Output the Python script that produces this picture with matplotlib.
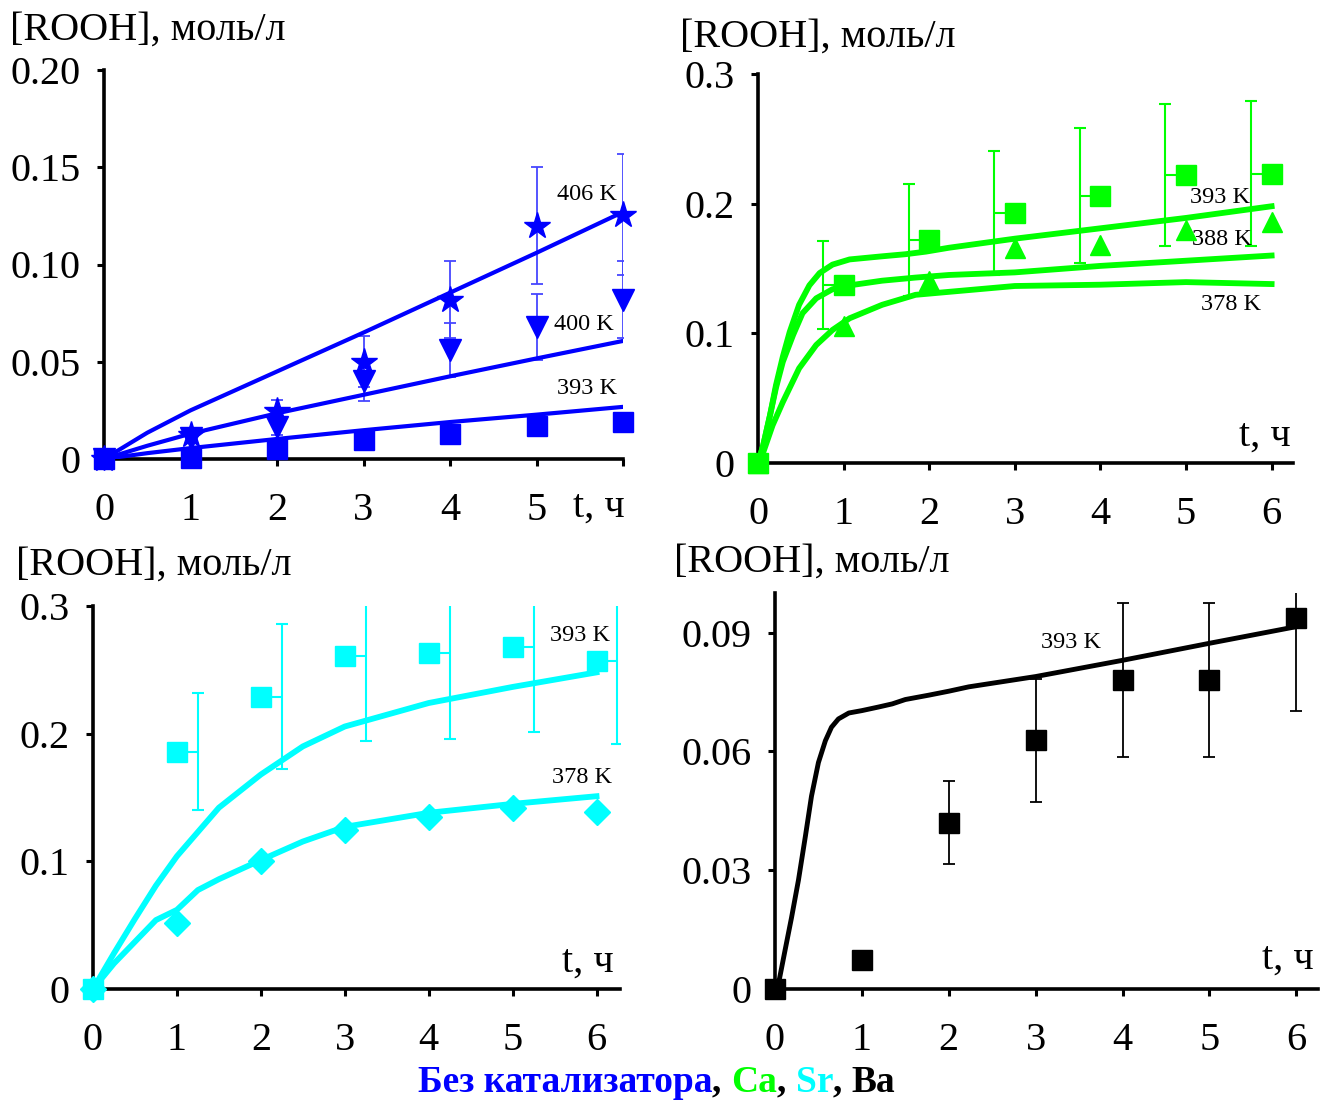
import numpy as np
import matplotlib
matplotlib.use("Agg")
import matplotlib.pyplot as plt

plt.rcParams['font.family'] = ['Liberation Serif', 'DejaVu Serif']

BLUE = '#0000ff'
BLUE_ERR = '#4646ff'
GREEN = '#00ff00'
CYAN = '#00ffff'
BLACK = '#000000'

t = [0, 1, 2, 3, 4, 5, 6]

# --- без катализатора
nc_406 = [0, 0.0125, 0.0247, 0.050, 0.082, 0.120, 0.1256]
nc_406_err = [0, 0, 0.0055, 0.013, 0.020, 0.030, 0.031]
nc_400 = [0, 0.011, 0.0165, 0.040, 0.056, 0.068, 0.082]
nc_400_err = [0, 0, 0.004, 0.010, 0.014, 0.017, 0.020]
nc_393 = [0, 0.0003, 0.005, 0.010, 0.013, 0.017, 0.019]
nc_fit_t = [0, 0.5, 1, 2, 3, 4, 5, 6]
nc_fit_406 = [0, 0.0135, 0.025, 0.045, 0.065, 0.0855, 0.106, 0.127]
nc_fit_400 = [0, 0.0068, 0.013, 0.0235, 0.033, 0.0425, 0.0517, 0.0607]
nc_fit_393 = [0, 0.003, 0.0056, 0.0103, 0.0148, 0.019, 0.0228, 0.0268]

# --- Ca
ca_393 = [0, 0.137, 0.172, 0.193, 0.206, 0.222, 0.223]
ca_393_err = [0, 0.034, 0.043, 0.048, 0.052, 0.055, 0.056]
ca_388 = [0, 0.106, 0.140, 0.166, 0.168, 0.180, 0.186]
ca_fit_t393 = [0, 0.06, 0.14, 0.21, 0.29, 0.37, 0.48, 0.6, 0.72, 0.87, 1.07,
               1.45, 1.72, 1.96, 2.23, 3, 4, 5, 6]
ca_fit_393 = [0, 0.0134, 0.0367, 0.060, 0.082, 0.101, 0.122, 0.137, 0.1465, 0.153,
              0.157, 0.1594, 0.161, 0.163, 0.166, 0.173, 0.181, 0.189, 0.198]
ca_fit_t388 = [0, 0.06, 0.14, 0.21, 0.29, 0.41, 0.52, 0.68, 0.87, 1.07, 1.45, 1.84,
               2.23, 3, 4, 5, 6]
ca_fit_388 = [0, 0.0134, 0.0367, 0.058, 0.078, 0.0987, 0.1155, 0.127, 0.134, 0.137,
              0.1406, 0.143, 0.145, 0.147, 0.152, 0.156, 0.160]
ca_fit_t378 = [0, 0.06, 0.17, 0.29, 0.48, 0.68, 0.87, 1.07, 1.45, 1.84, 2.23,
               3, 4, 5, 6]
ca_fit_378 = [0, 0.008, 0.029, 0.047, 0.073, 0.091, 0.1026, 0.1116, 0.122, 0.1297,
              0.132, 0.1365, 0.1375, 0.1395, 0.138]

# --- Sr
sr_393 = [0, 0.186, 0.229, 0.261, 0.263, 0.268, 0.257]
sr_393_err = [0, 0.046, 0.057, 0.067, 0.067, 0.067, 0.065]
sr_378 = [0, 0.052, 0.100, 0.1245, 0.135, 0.142, 0.1386]
sr_fit_t393 = [0, 0.25, 0.5, 0.75, 1, 1.5, 2, 2.5, 3, 4, 5, 6]
sr_fit_393 = [0, 0.028, 0.055, 0.081, 0.104, 0.142, 0.168, 0.19, 0.2056, 0.224, 0.2366, 0.248]
sr_fit_t378 = [0, 0.25, 0.5, 0.75, 1, 1.25, 1.5, 2, 2.5, 3, 4, 5, 5.5, 6]
sr_fit_378 = [0, 0.02, 0.037, 0.054, 0.062, 0.0775, 0.086, 0.101, 0.1155, 0.127,
              0.138, 0.145, 0.148, 0.151]

# --- Ba
ba_393 = [0, 0.0073, 0.042, 0.0628, 0.078, 0.078, 0.0936]
ba_393_err = [0, 0, 0.0105, 0.0155, 0.0195, 0.0195, 0.0233]
ba_fit_t = [0, 0.04, 0.115, 0.19, 0.27, 0.35, 0.42, 0.5, 0.58, 0.65, 0.73, 0.85,
            1.0, 1.19, 1.35, 1.5, 1.77, 2.0, 2.23, 3, 4, 5, 6]
ba_fit_393 = [0, 0.0013, 0.0097, 0.018, 0.0275, 0.0386, 0.0487, 0.0572, 0.0627,
              0.0661, 0.0682, 0.0697, 0.0703, 0.0712, 0.072, 0.0731, 0.0742,
              0.0752, 0.0763, 0.0789, 0.083, 0.0873, 0.0915]

W, H = 1335, 1102
fig = plt.figure(figsize=(W / 100, H / 100), dpi=100)

TICK_FS = 29
SMALL_FS = 17.5


def make_axes(left, right, top, bottom, xlim, ylim, yticks, ylabels, xticks, xlabels):
    ax = fig.add_axes([left / W, 1 - bottom / H, (right - left) / W, (bottom - top) / H])
    ax.set_xlim(*xlim)
    ax.set_ylim(*ylim)
    for s in ('top', 'right'):
        ax.spines[s].set_visible(False)
    for s in ('left', 'bottom'):
        ax.spines[s].set_linewidth(2.6)
    ax.set_yticks(yticks)
    ax.set_yticklabels(ylabels)
    ax.set_xticks(xticks)
    ax.set_xticklabels(xlabels)
    ax.tick_params(axis='both', direction='out', length=5, width=2.2,
                   labelsize=TICK_FS)
    ax.tick_params(axis='y', pad=12)
    ax.tick_params(axis='x', pad=19)
    ax.patch.set_visible(False)
    return ax


def conc_label(x, y):
    fig.text(x / W, 1 - y / H, '[ROOH], моль/л', fontsize=TICK_FS,
             ha='left', va='center')


# ---------------- панель 1: без катализатора
ax1 = make_axes(104, 623, 70, 459, (0, 6), (0, 0.2),
                [0, 0.05, 0.10, 0.15, 0.20], ['0', '0.05', '0.10', '0.15', '0.20'],
                t, ['0', '1', '2', '3', '4', '5', ''])
ax1.plot(nc_fit_t, nc_fit_406, color=BLUE, lw=3, zorder=3)
ax1.plot(nc_fit_t, nc_fit_400, color=BLUE, lw=3, zorder=3)
ax1.plot(nc_fit_t, nc_fit_393, color=BLUE, lw=3, zorder=3)
ax1.errorbar(t, nc_406, yerr=nc_406_err, fmt='none', ecolor=BLUE_ERR,
             elinewidth=1.3, capsize=4, capthick=1.3, zorder=2)
ax1.errorbar(t, nc_400, yerr=nc_400_err, fmt='none', ecolor=BLUE_ERR,
             elinewidth=1.3, capsize=4, capthick=1.3, zorder=2)
ax1.plot(t, nc_393, 's', color=BLUE, ms=14, clip_on=False, zorder=5)
ax1.plot(t, nc_400, 'v', color=BLUE, ms=16, clip_on=False, zorder=5)
ax1.plot(t, nc_406, '*', color=BLUE, ms=20, clip_on=False, zorder=5)
ax1.text(5.58, 0.136, '406 K', fontsize=SMALL_FS, ha='center', va='center')
ax1.text(5.55, 0.069, '400 K', fontsize=SMALL_FS, ha='center', va='center')
ax1.text(5.58, 0.036, '393 K', fontsize=SMALL_FS, ha='center', va='center')
ax1.text(5.72, -0.025, 't, ч', fontsize=TICK_FS, ha='center', va='center')
conc_label(10, 30)

# ---------------- панель 2: Ca
ax2 = make_axes(758, 1293, 74, 463, (0, 6.25), (0, 0.3),
                [0, 0.1, 0.2, 0.3], ['0', '0.1', '0.2', '0.3'],
                t, [str(v) for v in t])
ax2.plot(ca_fit_t393, ca_fit_393, color=GREEN, lw=4.2, zorder=3)
ax2.plot(ca_fit_t388, ca_fit_388, color=GREEN, lw=4.2, zorder=3)
ax2.plot(ca_fit_t378, ca_fit_378, color=GREEN, lw=4.2, zorder=3)
ca_bar_t = [v - 0.24 for v in t[1:]]
ax2.errorbar(ca_bar_t, ca_393[1:], yerr=ca_393_err[1:], fmt='none', ecolor=GREEN,
             elinewidth=1.5, capsize=4, capthick=1.5, zorder=2)
ax2.errorbar(ca_bar_t, ca_393[1:], xerr=[[0] * 6, [0.24] * 6], fmt='none',
             ecolor=GREEN, elinewidth=1.5, capsize=0, zorder=2)
ax2.plot(t, ca_388, '^', color=GREEN, ms=15, clip_on=False, zorder=5)
ax2.plot(t, ca_393, 's', color=GREEN, ms=14, clip_on=False, zorder=5)
ax2.text(5.4, 0.205, '393 K', fontsize=SMALL_FS, ha='center', va='center')
ax2.text(5.42, 0.172, '388 K', fontsize=SMALL_FS, ha='center', va='center')
ax2.text(5.52, 0.122, '378 K', fontsize=SMALL_FS, ha='center', va='center')
ax2.text(5.92, 0.021, 't, ч', fontsize=TICK_FS, ha='center', va='center')
conc_label(680, 37)

# ---------------- панель 3: Sr
ax3 = make_axes(93, 620, 606, 989, (0, 6.28), (0, 0.3),
                [0, 0.1, 0.2, 0.3], ['0', '0.1', '0.2', '0.3'],
                t, [str(v) for v in t])
ax3.plot(sr_fit_t393, sr_fit_393, color=CYAN, lw=4.2, zorder=3)
ax3.plot(sr_fit_t378, sr_fit_378, color=CYAN, lw=4.2, zorder=3)
sr_bar_t = [v + 0.25 for v in t[1:]]
ax3.errorbar(sr_bar_t, sr_393[1:], yerr=sr_393_err[1:], fmt='none', ecolor=CYAN,
             elinewidth=1.5, capsize=4, capthick=1.5, zorder=2)
ax3.errorbar(sr_bar_t, sr_393[1:], xerr=[[0.25] * 6, [0] * 6], fmt='none',
             ecolor=CYAN, elinewidth=1.5, capsize=0, zorder=2)
ax3.plot(t, sr_378, 'D', color=CYAN, ms=13, clip_on=False, zorder=5)
ax3.plot(t, sr_393, 's', color=CYAN, ms=14, clip_on=False, zorder=5)
ax3.text(5.8, 0.277, '393 K', fontsize=SMALL_FS, ha='center', va='center')
ax3.text(5.83, 0.166, '378 K', fontsize=SMALL_FS, ha='center', va='center')
ax3.text(5.9, 0.021, 't, ч', fontsize=TICK_FS, ha='center', va='center')
conc_label(16, 565)

# ---------------- панель 4: Ba
ax4 = make_axes(775, 1318, 593, 989, (0, 6.25), (0, 0.1),
                [0, 0.03, 0.06, 0.09], ['0', '0.03', '0.06', '0.09'],
                t, [str(v) for v in t])
ax4.plot(ba_fit_t, ba_fit_393, color=BLACK, lw=3.5, zorder=3)
ax4.errorbar(t, ba_393, yerr=ba_393_err, fmt='none', ecolor=BLACK,
             elinewidth=1.3, capsize=4, capthick=1.3, zorder=2)
ax4.plot(t, ba_393, 's', color=BLACK, ms=14, clip_on=False, zorder=5)
ax4.text(3.41, 0.0875, '393 K', fontsize=SMALL_FS, ha='center', va='center')
ax4.text(5.9, 0.0075, 't, ч', fontsize=TICK_FS, ha='center', va='center')
conc_label(674, 562)

# ---------------- подпись: разноцветные части подряд
parts = [('Без катализатора', BLUE), (', ', BLACK), ('Ca', GREEN), (', ', BLACK),
         ('Sr', CYAN), (', ', BLACK), ('Ba', BLACK)]
prev = fig.text(418 / W, 1 - 1082 / H, parts[0][0], color=parts[0][1],
                fontsize=27, fontweight='bold', ha='left', va='center')
for txt, col in parts[1:]:
    prev = ax4.annotate(txt, xy=(1, 0), xycoords=prev, color=col, fontsize=27,
                        fontweight='bold', ha='left', va='bottom',
                        annotation_clip=False)

fig.savefig('out.png', dpi=100)
